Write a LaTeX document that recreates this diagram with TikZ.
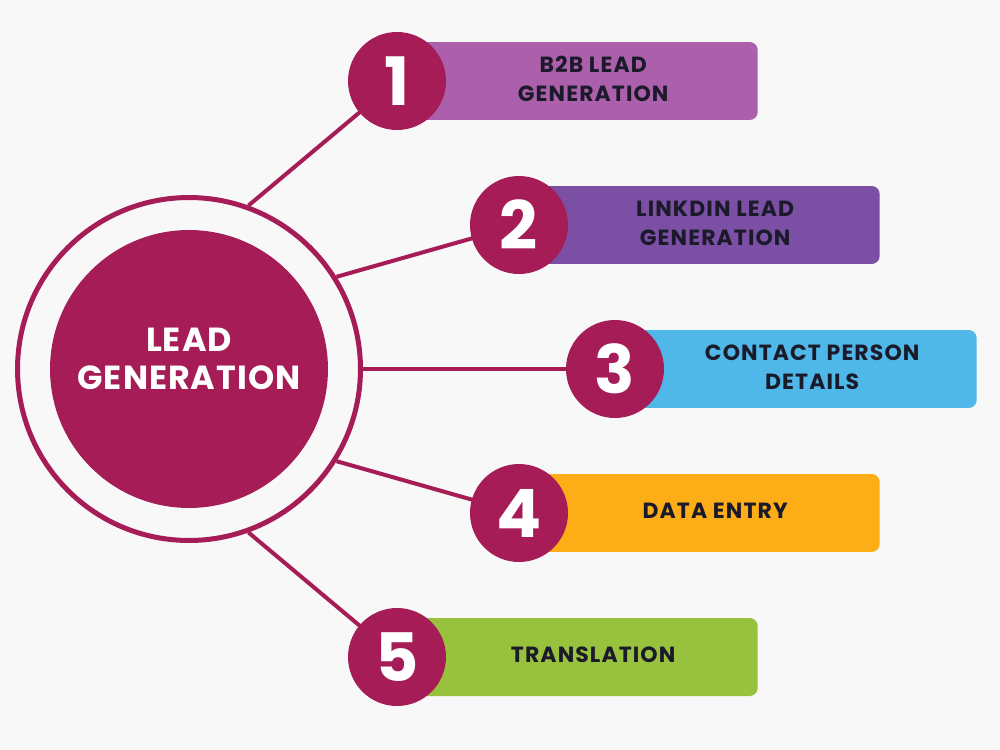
\documentclass[tikz,border=0pt]{standalone}
\usepackage{fontspec}
\setmainfont{Poppins}
\newfontfamily\widefont[LetterSpace=5.0]{Poppins}
\usepackage{tikz}
\usetikzlibrary{backgrounds}
\definecolor{crimson}{HTML}{A51C56}
\definecolor{pagebg}{HTML}{F8F8F9}
\definecolor{ink}{HTML}{1B1A2A}
\definecolor{orchidbar}{HTML}{AC5FAA}
\definecolor{purplebar}{HTML}{7B4FA3}
\definecolor{skybar}{HTML}{4FB8E8}
\definecolor{amberbar}{HTML}{FDAE17}
\definecolor{limebar}{HTML}{98C13D}
\newcommand{\bartext}[1]{\hspace*{0.34cm}\begin{tabular}{@{}c@{}}#1\end{tabular}}
\tikzset{
  num/.style={circle, fill=crimson, inner sep=0pt, minimum size=1.96cm, text=white, font=\fontsize{38}{38}\selectfont\bfseries},
  bar/.style={rectangle, rounded corners=0.16cm, anchor=east, minimum width=6.92cm, minimum height=1.56cm, inner sep=0pt, text=ink, font=\widefont\fontsize{12.5}{17}\selectfont\bfseries},
  spoke/.style={draw=crimson, line width=0.08cm}}

\begin{document}
\begin{tikzpicture}[x=0.02cm, y=-0.02cm]
  \useasboundingbox (0,0) rectangle (1000,750);
  % hub
  \node[circle, draw=crimson, line width=0.1cm, minimum size=6.86cm, inner sep=0pt] (ring) at (189,369) {};
  \node[circle, fill=crimson, minimum size=5.56cm, inner sep=0pt] (hub) at (189,369) {};
  \node[align=center, text=white, font=\fontsize{19}{21.5}\selectfont\bfseries\addfontfeature{LetterSpace=3.0}] (title) at (189,359) {LEAD\\GENERATION};
  % bars
  \node[bar, fill=orchidbar] (b1) at (758,81) {\bartext{B2B LEAD\\GENERATION}};
  \node[bar, fill=purplebar] (b2) at (880,225) {\bartext{LINKDIN LEAD\\GENERATION}};
  \node[bar, fill=skybar] (b3) at (977,369) {\bartext{CONTACT PERSON\\DETAILS}};
  \node[bar, fill=amberbar] (b4) at (880,513) {\bartext{DATA ENTRY}};
  \node[bar, fill=limebar] (b5) at (758,657) {\bartext{TRANSLATION}};
  % numbers
  \node[num] (n1) at (397,81) {1};
  \node[num] (n2) at (519,225) {2};
  \node[num] (n3) at (615,369) {3};
  \node[num] (n4) at (519,513) {4};
  \node[num] (n5) at (397,657) {5};
  \begin{scope}[on background layer]
    \fill[pagebg] (0,0) rectangle (1000,750);
    \draw[spoke] (ring.70) -- (n1.center);
    \draw[spoke] (ring.32) -- (n2.center);
    \draw[spoke] (ring.0) -- (n3.center);
    \draw[spoke] (ring.-32) -- (n4.center);
    \draw[spoke] (ring.-70) -- (n5.center);
  \end{scope}
\end{tikzpicture}
\end{document}
